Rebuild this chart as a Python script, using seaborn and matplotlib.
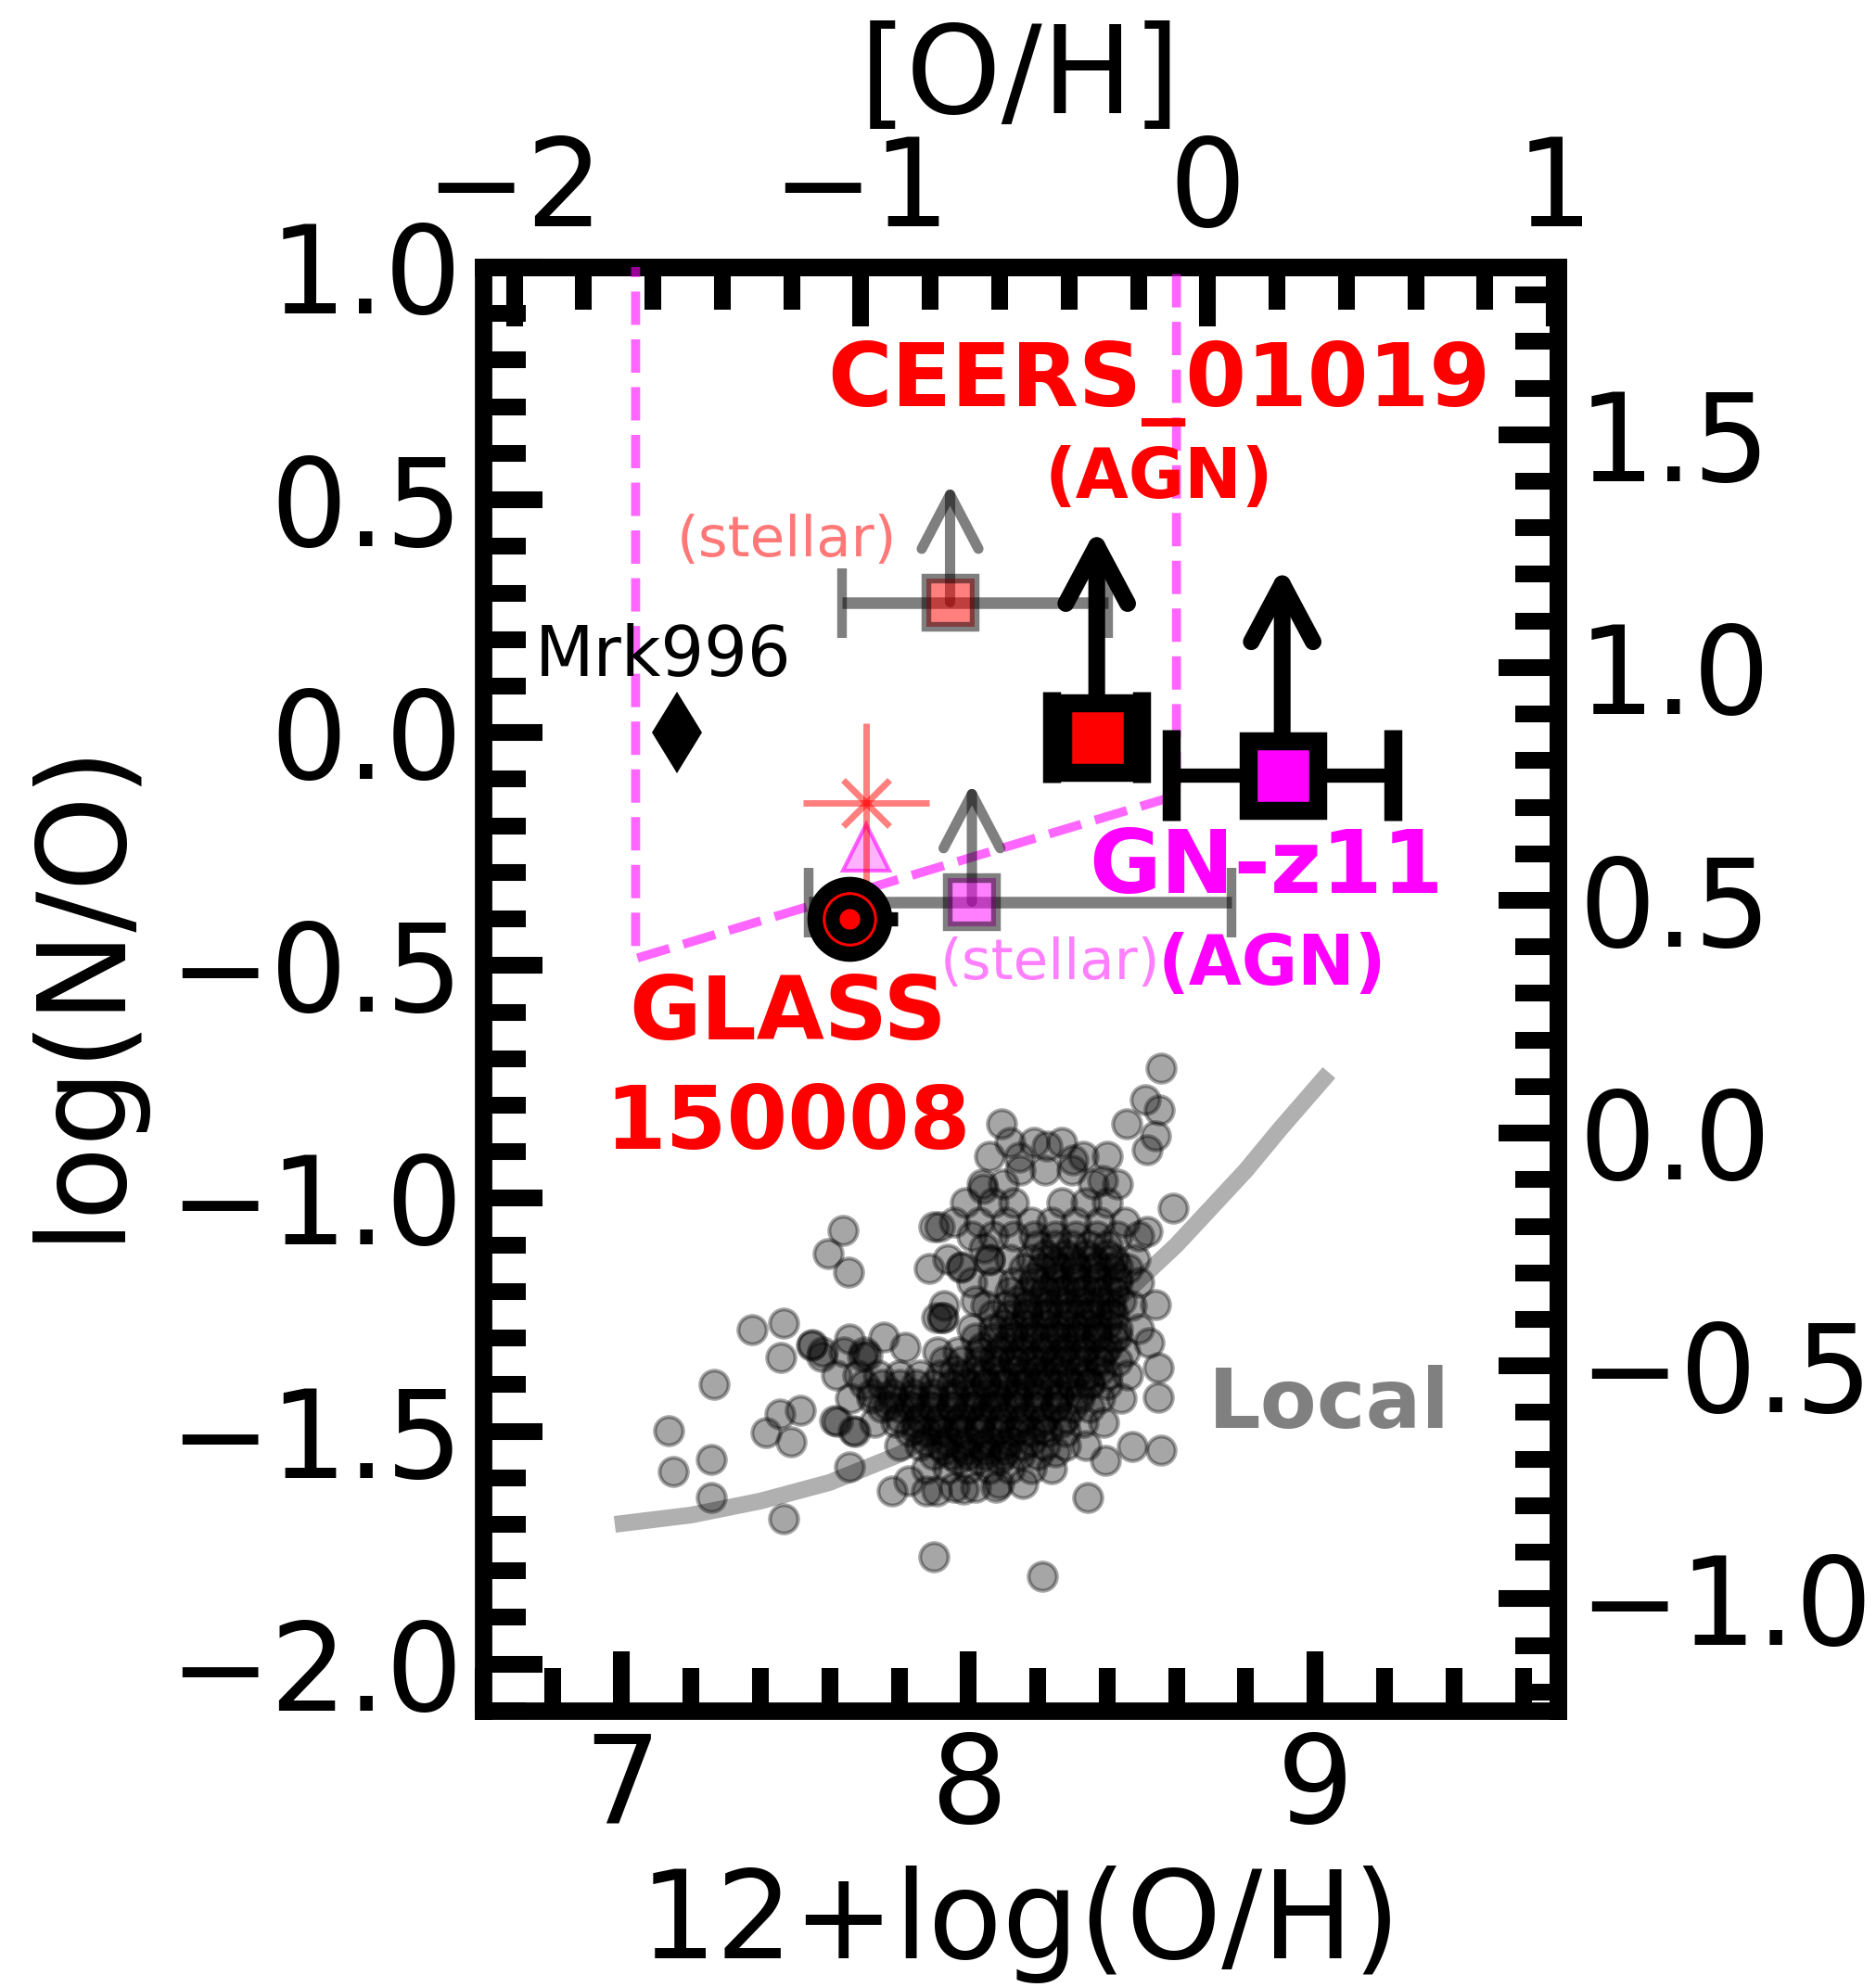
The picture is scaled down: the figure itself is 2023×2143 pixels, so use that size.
import matplotlib
matplotlib.use("Agg")
import matplotlib.pyplot as plt
from matplotlib.ticker import MultipleLocator, FuncFormatter
import numpy as np
import pandas as pd
import seaborn as sns

sns.set_theme(style="white")
plt.rcParams["font.family"] = ["DejaVu Sans"]
plt.rcParams["axes.unicode_minus"] = True
plt.rcParams["text.color"] = "black"
plt.rcParams["axes.labelcolor"] = "black"
plt.rcParams["xtick.color"] = "black"
plt.rcParams["ytick.color"] = "black"
plt.rcParams["xtick.labelcolor"] = "black"
plt.rcParams["ytick.labelcolor"] = "black"

# Solar reference values used for the [O/H] and [N/O] axes
SOLAR_OH = 8.69
SOLAR_NO = -0.86

# ---------------------------------------------------------------- data
# local star-forming galaxies: scattered objects
local_oh = [7.637, 7.595, 7.653, 7.376, 7.467, 7.459, 7.267, 7.136, 7.149, 7.259,
            7.259, 7.467, 7.416, 7.456, 7.515, 7.488, 7.547, 7.656, 7.755, 7.816,
            7.613, 7.667, 7.656, 7.781, 7.827, 7.901, 7.901, 7.888, 7.907, 7.576,
            7.693, 7.880, 7.621, 7.672, 7.909, 7.987, 8.088, 8.157, 8.251, 8.344,
            8.395, 8.472, 8.555, 8.547, 8.547, 8.539, 8.520, 8.213, 8.555, 8.509,
            8.549, 8.456, 8.539, 8.515, 8.096, 8.589, 8.515, 8.387, 8.043, 7.917,
            8.147, 8.227, 8.301, 8.061, 7.981, 7.923, 7.979, 8.045, 8.021, 7.928,
            7.707, 7.549]
local_no = [-1.068, -1.118, -1.159, -1.281, -1.267, -1.341, -1.400, -1.498, -1.586, -1.560,
            -1.643, -1.689, -1.502, -1.464, -1.456, -1.522, -1.315, -1.301, -1.297, -1.319,
            -1.476, -1.498, -1.576, -1.628, -1.606, -1.769, -1.060, -1.151, -1.255, -1.339,
            -1.339, -1.628, -1.478, -1.500, -1.629, -1.625, -1.612, -1.612, -1.544, -1.643,
            -1.562, -1.532, -1.540, -1.428, -1.363, -1.229, -1.309, -1.811, -0.721, -0.789,
            -0.809, -0.839, -0.865, -0.896, -0.839, -1.020, -1.070, -0.962, -0.980, -1.060,
            -0.912, -0.888, -0.918, -1.133, -1.147, -1.255, -1.149, -1.106, -1.221, -1.255,
            -1.337, -1.313]

# local galaxies in the crowded part of the distribution, row by row
core_rows_no = [-0.88, -0.91, -0.94, -0.97, -1.01, -1.05, -1.08, -1.13, -1.18, -1.23,
                -1.28, -1.33, -1.38, -1.43, -1.48, -1.53, -1.58, -1.62]
core_rows_oh = [
    [8.12, 8.19, 8.27],
    [8.06, 8.33, 8.40],
    [8.15, 8.22, 8.30],
    [8.04, 8.10, 8.36, 8.43],
    [7.99, 8.07, 8.13, 8.27, 8.34, 8.40],
    [7.96, 8.03, 8.11, 8.18, 8.24, 8.31, 8.38, 8.45],
    [8.01, 8.07, 8.13, 8.19, 8.25, 8.31, 8.37, 8.43, 8.49],
    [7.94, 8.06, 8.12, 8.18, 8.24, 8.30, 8.36, 8.42, 8.48],
    [8.01, 8.07, 8.13, 8.19, 8.25, 8.31, 8.37, 8.43, 8.49],
    [7.93, 8.05, 8.11, 8.17, 8.23, 8.29, 8.35, 8.41, 8.47],
    [8.01, 8.07, 8.13, 8.19, 8.25, 8.31, 8.37, 8.43, 8.49],
    [7.58, 7.64, 7.70, 7.91, 7.97, 8.03, 8.09, 8.15, 8.21, 8.27, 8.33, 8.39, 8.45],
    [7.62, 7.68, 7.74, 7.80, 7.86, 7.92, 7.98, 8.04, 8.10, 8.16, 8.22, 8.28, 8.34, 8.40, 8.46],
    [7.66, 7.72, 7.78, 7.84, 7.90, 7.96, 8.02, 8.08, 8.14, 8.20, 8.26, 8.32, 8.38, 8.44],
    [7.73, 7.79, 7.85, 7.91, 7.97, 8.03, 8.09, 8.15, 8.21, 8.27, 8.33, 8.39],
    [7.80, 7.86, 7.92, 7.98, 8.04, 8.10, 8.16, 8.22, 8.28, 8.34],
    [7.88, 7.94, 8.00, 8.06, 8.12, 8.18, 8.24],
    [7.96, 8.02, 8.08],
]
dense_rows_no = [-1.10, -1.15, -1.20, -1.25, -1.30, -1.35, -1.40, -1.45, -1.50, -1.55]
dense_rows_oh = [
    [8.20, 8.25, 8.30, 8.35, 8.40],
    [8.16, 8.21, 8.26, 8.31, 8.36, 8.41, 8.46],
    [8.12, 8.17, 8.22, 8.27, 8.32, 8.37, 8.42],
    [8.07, 8.12, 8.17, 8.22, 8.27, 8.32, 8.37, 8.42],
    [8.02, 8.07, 8.12, 8.17, 8.22, 8.27, 8.32, 8.37, 8.42],
    [7.93, 7.98, 8.03, 8.08, 8.13, 8.18, 8.23, 8.28, 8.33, 8.38, 8.43],
    [7.70, 7.75, 7.80, 7.85, 7.90, 7.95, 8.00, 8.05, 8.10, 8.15, 8.20, 8.25, 8.30, 8.35, 8.40],
    [7.75, 7.80, 7.85, 7.90, 7.95, 8.00, 8.05, 8.10, 8.15, 8.20, 8.25, 8.30, 8.35],
    [7.83, 7.88, 7.93, 7.98, 8.03, 8.08, 8.13, 8.18, 8.23, 8.28],
    [7.90, 7.95, 8.00, 8.05, 8.10, 8.15, 8.20],
]
darkest_rows_no = [-1.12, -1.17, -1.22, -1.27, -1.32, -1.37, -1.42, -1.47, -1.52, -1.56,
                   -1.145, -1.195, -1.245, -1.295, -1.345, -1.395, -1.445, -1.495, -1.54]
darkest_rows_oh = [
    [8.22, 8.28, 8.34, 8.40],
    [8.19, 8.25, 8.31, 8.37, 8.43],
    [8.14, 8.20, 8.26, 8.32, 8.38, 8.44],
    [8.10, 8.16, 8.22, 8.28, 8.34, 8.40],
    [8.04, 8.10, 8.16, 8.22, 8.28, 8.34, 8.40],
    [7.96, 8.02, 8.08, 8.14, 8.20, 8.26, 8.32, 8.38],
    [7.72, 7.78, 7.84, 7.90, 7.96, 8.02, 8.08, 8.14, 8.20, 8.26, 8.32],
    [7.80, 7.86, 7.92, 7.98, 8.04, 8.10, 8.16, 8.22, 8.28],
    [7.88, 7.94, 8.00, 8.06, 8.12, 8.18],
    [7.97, 8.03, 8.09],
    [8.25, 8.31, 8.37, 8.43],
    [8.22, 8.28, 8.34, 8.40],
    [8.17, 8.23, 8.29, 8.35, 8.41],
    [8.13, 8.19, 8.25, 8.31, 8.37, 8.43],
    [8.07, 8.13, 8.19, 8.25, 8.31, 8.37],
    [7.99, 8.05, 8.11, 8.17, 8.23, 8.29, 8.35],
    [7.77, 7.83, 7.89, 7.95, 8.01, 8.07, 8.13, 8.19, 8.25],
    [7.85, 7.91, 7.97, 8.03, 8.09, 8.15, 8.21],
    [7.93, 7.99, 8.05, 8.11],
]

# local N/O - O/H relation
local_curve_oh = [6.98, 7.20, 7.40, 7.60, 7.80, 8.00, 8.20, 8.40, 8.50, 8.60, 8.70, 8.80, 8.90, 9.04]
local_curve_no = [-1.70, -1.68, -1.65, -1.61, -1.55, -1.47, -1.37, -1.24, -1.17, -1.10,
                  -1.02, -0.94, -0.85, -0.73]

# boundary (dashed magenta)
boundary_oh = [7.04, 7.04, 8.60, 8.60]
boundary_no = [1.05, -0.485, -0.135, 1.05]

# individual objects
mrk996 = (7.16, 0.00)
ceers_agn = (8.37, -0.01)
ceers_agn_xerr = 0.13
ceers_stellar = (7.947, 0.28)
ceers_stellar_xerr = (0.312, 0.456)
gnz11_agn = (8.905, -0.092)
gnz11_agn_xerr = 0.32
gnz11_stellar = (8.01, -0.363)
gnz11_stellar_xerr = (0.47, 0.75)
glass = (7.658, -0.40)
glass_xerr = (0.08, 0.137)
red_star = (7.705, -0.151)
red_star_err = (0.183, 0.172)
magenta_tri = (7.705, -0.247)
agn_limit_len = 0.45
stellar_limit_len = 0.255

# ---------------------------------------------------------------- figure
fig = plt.figure(figsize=(20.23, 21.43), dpi=100)
ax = fig.add_axes([0.2575, 0.1391, 0.5729, 0.7265])
ax.set_xlim(6.6, 9.7)
ax.set_ylim(-2.1, 1.0)

FS = 94
SPINE_W = 13.5
TICK_W = 13
MAJ_L, MIN_L = 46, 33
BIG = 68

def fmt1(v, pos):
    s = f"{v:.1f}"
    if s == "-0.0":
        s = "0.0"
    return s.replace("-", "\u2212")

# local relation and sample
sns.lineplot(x=local_curve_oh, y=local_curve_no, sort=False, estimator=None,
             color="#b0b0b0", lw=13, ax=ax, zorder=1)
ax.lines[-1].set_solid_capstyle("butt")

core_oh, core_no = [], []
for rows_no, rows_oh in ((core_rows_no, core_rows_oh),
                         (dense_rows_no, dense_rows_oh),
                         (darkest_rows_no, darkest_rows_oh)):
    for yv, xs in zip(rows_no, rows_oh):
        core_oh += xs
        core_no += [yv] * len(xs)
local_df = pd.DataFrame({"oh": local_oh + core_oh, "no": local_no + core_no})
sns.scatterplot(data=local_df, x="oh", y="no", s=480, color="black", alpha=0.35,
                edgecolor="black", linewidth=3, ax=ax, zorder=2, legend=False)

# dashed region
ax.plot(boundary_oh, boundary_no, ls="--", lw=7, color="magenta", alpha=0.6, zorder=3)

def limit_arrow(x, y, length, color, lw, hl, hw):
    ax.annotate("", xy=(x, y + length), xytext=(x, y),
                arrowprops=dict(arrowstyle=f"->,head_length={hl},head_width={hw}",
                                color=color, lw=lw, shrinkA=0, shrinkB=0,
                                mutation_scale=100, capstyle="round",
                                joinstyle="round"),
                zorder=4)

gray = (0, 0, 0, 0.5)

# stellar estimates (lower limits)
limit_arrow(ceers_stellar[0], ceers_stellar[1], stellar_limit_len, gray, 8, 0.42, 0.22)
ax.errorbar(ceers_stellar[0], ceers_stellar[1],
            xerr=[[ceers_stellar_xerr[0]], [ceers_stellar_xerr[1]]],
            fmt="s", ms=37, mfc=(1, 0, 0, 0.5), mec=gray, mew=7.5,
            ecolor=gray, elinewidth=9, capsize=27, capthick=8, zorder=5)
limit_arrow(gnz11_stellar[0], gnz11_stellar[1], stellar_limit_len, gray, 8, 0.42, 0.22)
ax.errorbar(gnz11_stellar[0], gnz11_stellar[1],
            xerr=[[gnz11_stellar_xerr[0]], [gnz11_stellar_xerr[1]]],
            fmt="s", ms=37, mfc=(1, 0, 1, 0.5), mec=gray, mew=7.5,
            ecolor=gray, elinewidth=9, capsize=27, capthick=8, zorder=5)

# AGN estimates (lower limits)
limit_arrow(ceers_agn[0], ceers_agn[1], agn_limit_len, "black", 13, 0.45, 0.24)
ax.errorbar(ceers_agn[0], ceers_agn[1], xerr=ceers_agn_xerr,
            fmt="s", ms=54, mfc="red", mec="black", mew=14,
            ecolor="black", elinewidth=11, capsize=35, capthick=14, zorder=8)
limit_arrow(gnz11_agn[0], gnz11_agn[1], agn_limit_len, "black", 13, 0.45, 0.24)
ax.errorbar(gnz11_agn[0], gnz11_agn[1], xerr=gnz11_agn_xerr,
            fmt="s", ms=54, mfc="magenta", mec="black", mew=14,
            ecolor="black", elinewidth=11, capsize=35, capthick=14, zorder=8)

# Mrk996
ax.plot(*mrk996, marker="d", ms=45, color="black", mew=0, zorder=6)

# triangle and asterisk near GLASS
ax.plot(*magenta_tri, marker="^", ms=36, mfc=(1, 0, 1, 0.3), mec=(1, 0, 1, 0.6),
        mew=3, zorder=6)
ax.errorbar(red_star[0], red_star[1], xerr=red_star_err[0], yerr=red_star_err[1],
            fmt="x", ms=36, mew=5, color=(1, 0, 0, 0.5), elinewidth=5, capsize=0,
            zorder=7)

# GLASS 150008
ax.errorbar(glass[0], glass[1], xerr=[[glass_xerr[0]], [glass_xerr[1]]],
            fmt="o", ms=66, color="black", mew=0, ecolor="black", elinewidth=11,
            capsize=35, capthick=14, zorder=9)
ax.plot(*glass, marker="o", ms=40, mfc="none", mec="red", mew=2.2, zorder=10)
ax.plot(*glass, marker="o", ms=16, color="red", mew=0, zorder=10)

# labels
ax.text(8.55, 0.701, "CEERS_01019", color="red", fontsize=BIG, fontweight="bold",
        ha="center", va="baseline", zorder=11)
ax.text(8.55, 0.504, "(AGN)", color="red", fontsize=53, fontweight="bold",
        ha="center", va="baseline", zorder=11)
ax.text(7.475, 0.378, "(stellar)", color="#ff7878", fontsize=44,
        ha="center", va="baseline", zorder=11)
ax.text(7.12, 0.122, "Mrk996", color="black", fontsize=53,
        ha="center", va="baseline", zorder=11)
ax.text(8.86, -0.343, "GN-z11", color="magenta", fontsize=BIG, fontweight="bold",
        ha="center", va="baseline", zorder=11)
ax.text(8.877, -0.542, "(AGN)", color="magenta", fontsize=53, fontweight="bold",
        ha="center", va="baseline", zorder=11)
ax.text(8.235, -0.530, "(stellar)", color="#ff7fff", fontsize=44,
        ha="center", va="baseline", zorder=11)
ax.text(7.48, -0.659, "GLASS", color="red", fontsize=BIG, fontweight="bold",
        ha="center", va="baseline", zorder=11)
ax.text(7.48, -0.894, "150008", color="red", fontsize=BIG, fontweight="bold",
        ha="center", va="baseline", zorder=11)
ax.text(9.04, -1.492, "Local", color="#808080", fontsize=64, fontweight="bold",
        ha="center", va="baseline", zorder=11)

# ---------------------------------------------------------------- axes styling
for sp in ax.spines.values():
    sp.set_linewidth(SPINE_W)
    sp.set_color("black")
    sp.set_visible(True)

ax.xaxis.set_major_locator(MultipleLocator(1))
ax.xaxis.set_minor_locator(MultipleLocator(0.2))
ax.yaxis.set_major_locator(MultipleLocator(0.5))
ax.yaxis.set_minor_locator(MultipleLocator(0.1))
ax.yaxis.set_major_formatter(FuncFormatter(fmt1))
ax.tick_params(which="both", direction="in", top=False, right=False,
               bottom=True, left=True, width=TICK_W, color="black",
               labelsize=FS, labelcolor="black")
ax.tick_params(which="major", length=MAJ_L)
ax.tick_params(which="minor", length=MIN_L)
ax.tick_params(axis="y", which="both", pad=16)
ax.tick_params(axis="x", which="both", pad=15)
ax.set_xlabel("12+log(O/H)", fontsize=FS, labelpad=14, color="black")
ax.set_ylabel("log(N/O)", fontsize=FS, labelpad=22, color="black")
ax.grid(False)

secx = ax.secondary_xaxis("top", functions=(lambda x: x - SOLAR_OH,
                                            lambda x: x + SOLAR_OH))
secx.xaxis.set_major_locator(MultipleLocator(1))
secx.xaxis.set_minor_locator(MultipleLocator(0.2))
secx.tick_params(which="both", direction="in", width=TICK_W, labelsize=FS, pad=12,
                 color="black", labelcolor="black")
secx.tick_params(which="major", length=MAJ_L)
secx.tick_params(which="minor", length=MIN_L)
secx.set_xlabel("[O/H]", fontsize=FS, labelpad=16, color="black")
secx.spines["top"].set_linewidth(SPINE_W)
secx.spines["top"].set_color("black")

secy = ax.secondary_yaxis("right", functions=(lambda y: y - SOLAR_NO,
                                              lambda y: y + SOLAR_NO))
secy.yaxis.set_major_locator(MultipleLocator(0.5))
secy.yaxis.set_minor_locator(MultipleLocator(0.1))
secy.yaxis.set_major_formatter(FuncFormatter(fmt1))
secy.tick_params(which="both", direction="in", width=TICK_W, labelsize=FS, pad=16,
                 color="black", labelcolor="black")
secy.tick_params(which="major", length=MAJ_L)
secy.tick_params(which="minor", length=MIN_L)
secy.spines["right"].set_linewidth(SPINE_W)
secy.spines["right"].set_color("black")

fig.savefig("out.png", dpi=100, facecolor="white")
